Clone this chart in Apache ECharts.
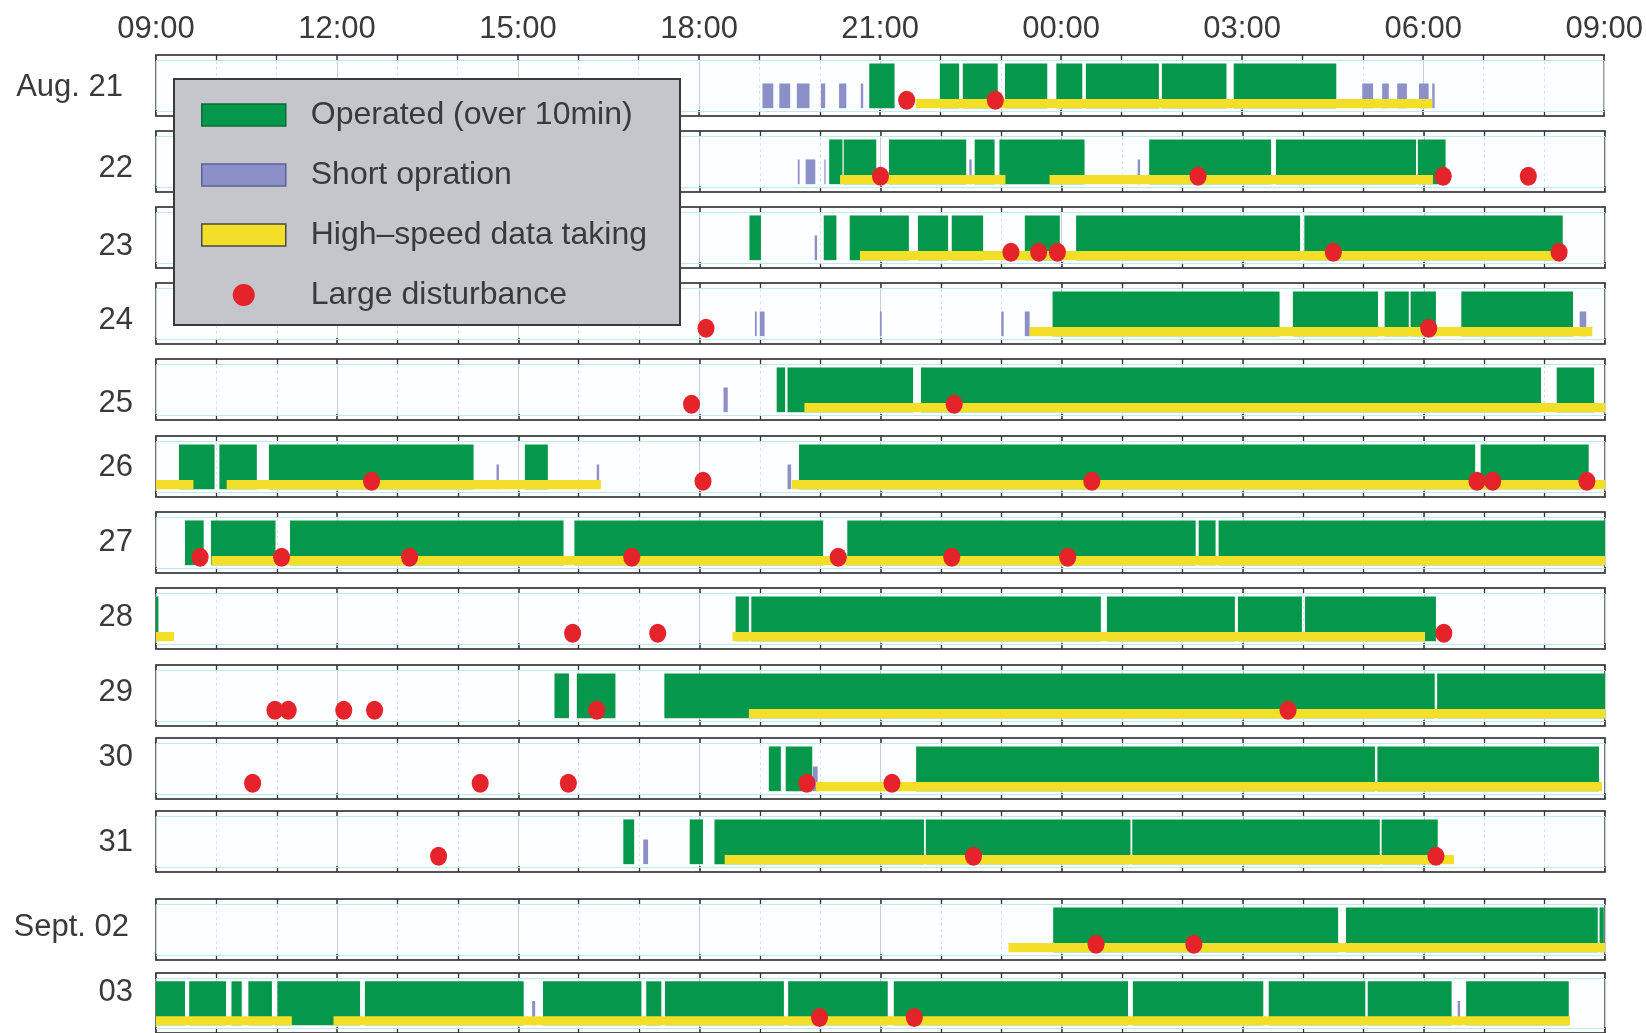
<!DOCTYPE html>
<html>
<head>
<meta charset="utf-8">
<script src="https://cdn.jsdelivr.net/npm/echarts@6/dist/echarts.min.js"></script>
<style>
  html, body { margin: 0; padding: 0; background: #ffffff; }
  #chart { width: 1646px; height: 1033px; }
</style>
</head>
<body>
<div id="chart"></div>
<script>
// Daily operation log: each row runs from 09:00 to 09:00 of the next day.
// Times are clock hours; values above 24 belong to the following morning.

const dayLabels = ['Aug. 21', '22', '23', '24', '25', '26', '27', '28', '29', '30', '31', 'Sept. 02', '03'];

// Operated (over 10 min): [start, end] per run
const operated = [
  [[20.82, 21.24], [21.99, 22.31], [22.37, 22.95], [23.07, 23.77], [23.92, 24.35], [24.41, 25.62], [25.67, 26.74], [26.86, 28.56]],
  [[20.15, 20.37], [20.39, 20.93], [21.14, 22.42], [22.56, 22.89], [22.97, 24.38], [25.45, 27.47], [27.55, 29.87], [29.9, 30.36]],
  [[18.83, 19.02], [20.06, 20.27], [20.49, 21.47], [21.62, 22.12], [22.18, 22.7], [23.39, 23.97], [24.24, 27.95], [28.02, 32.3]],
  [[23.85, 27.61], [27.83, 29.24], [29.35, 29.75], [29.78, 30.2], [30.62, 32.47]],
  [[19.28, 19.42], [19.46, 21.54], [21.67, 31.94], [32.2, 32.82]],
  [[9.38, 9.97], [10.05, 10.67], [10.87, 14.26], [15.11, 15.49], [19.65, 30.85], [30.94, 32.73]],
  [[9.48, 9.79], [9.91, 10.98], [11.22, 15.75], [15.93, 20.05], [20.45, 26.22], [26.27, 26.55], [26.6, 33.0]],
  [[9.0, 9.04], [18.6, 18.82], [18.86, 24.65], [24.75, 26.87], [26.92, 27.98], [28.03, 30.2]],
  [[15.6, 15.84], [15.97, 16.61], [17.42, 30.18], [30.22, 33.0]],
  [[19.15, 19.35], [19.43, 19.87], [21.59, 29.19], [29.23, 32.9]],
  [[16.74, 16.92], [17.84, 18.06], [18.25, 21.72], [21.75, 25.14], [25.17, 29.27], [29.3, 30.23]],
  [[23.86, 28.58], [28.71, 32.88], [32.91, 32.98]],
  [[9.0, 9.48], [9.55, 10.16], [10.25, 10.42], [10.53, 10.92], [11.01, 12.38], [12.46, 15.09], [15.41, 17.04],
   [17.12, 17.37], [17.43, 19.4], [19.47, 21.12], [21.22, 25.1], [25.18, 27.34], [27.43, 29.03], [29.07, 30.46], [30.7, 32.4]]
];

// Short operation: [start, end]
const shortOps = [
  [[19.05, 19.23], [19.33, 19.51], [19.62, 19.83], [20.02, 20.09], [20.32, 20.44], [20.68, 20.72],
   [28.99, 29.17], [29.32, 29.43], [29.57, 29.73], [29.93, 30.09], [30.15, 30.19]],
  [[19.63, 19.66], [19.76, 19.92], [20.07, 20.09], [22.47, 22.51], [25.26, 25.3]],
  [[19.91, 19.95]],
  [[18.92, 18.95], [19.0, 19.08], [20.99, 21.02], [23.0, 23.04], [23.39, 23.47], [32.58, 32.69]],
  [[18.4, 18.47]],
  [[14.64, 14.68], [16.3, 16.34], [19.46, 19.52]],
  [],
  [],
  [],
  [[19.88, 19.96]],
  [[17.07, 17.15]],
  [],
  [[15.23, 15.28], [30.56, 30.6]]
];

// High-speed data taking: [start, end]
const highSpeed = [
  [[21.59, 30.15]],
  [[20.33, 23.07], [23.8, 30.15]],
  [[20.66, 32.22]],
  [[23.47, 32.79]],
  [[19.74, 33.0]],
  [[9.0, 9.62], [10.17, 16.37], [19.53, 33.0]],
  [[9.92, 33.0]],
  [[9.0, 9.3], [18.55, 30.02]],
  [[18.82, 33.0]],
  [[19.93, 32.95]],
  [[18.42, 30.5]],
  [[23.12, 33.0]],
  [[9.0, 11.25], [11.94, 32.42]]
];

// Large disturbances: time of each event
const disturbances = [
  [21.44, 22.91],
  [21.0, 26.26, 30.32, 31.73],
  [23.16, 23.62, 23.93, 28.5, 32.24],
  [18.11, 30.08],
  [17.87, 22.22],
  [12.57, 18.06, 24.5, 30.88, 31.14, 32.7],
  [9.73, 11.08, 13.2, 16.88, 20.3, 22.18, 24.1],
  [15.9, 17.31, 30.33],
  [10.97, 11.19, 12.11, 12.62, 16.3, 27.75],
  [10.6, 14.37, 15.83, 19.78, 21.19],
  [13.68, 22.54, 30.2],
  [24.57, 26.19],
  [19.99, 21.56]
];

// Hour axis: 09:00 .. 09:00 (next day), labels every 3 hours
const HOUR_MIN = 9, HOUR_MAX = 33, HOUR_STEP = 3;

// ---- layout & style ----
const FONT = "'Liberation Sans', Arial, Helvetica, sans-serif";
const TEXT = '#3a3a3a';
const GREEN = '#06984a', BLUE = '#8b90c9', YELLOW = '#f3df27', RED = '#e4232b';
const AXIS = '#4a4a4a';
const GRID_LEFT = 156, GRID_RIGHT = 41, GRID_H = 61;
const gridTops = [55, 131, 207, 283, 359, 436, 512, 588, 665, 738, 811, 899, 973];
const labelY = [87, 168, 246, 320, 403, 467, 542, 617, 692, 757, 842, 927, 992];
const labelRight = [123, 133, 133, 133, 133, 133, 133, 133, 133, 133, 133, 129, 133];
// vertical lanes inside each row (y axis runs -1 .. 11)
const LANE = { opTop: 9.34, shortTop: 5.4, hsTop: 2.34, bottom: 0.54, dot: 2.1 };

const NAMES = {
  op: 'Operated (over 10min)',
  short: 'Short opration',
  hs: 'High\u2013speed data taking',
  dist: 'Large disturbance'
};

function hourLabel(v) {
  const h = ((v % 24) + 24) % 24;
  return (h < 10 ? '0' : '') + h + ':00';
}

function spanRenderer(top, bottom, fill) {
  return function (params, api) {
    const a = api.coord([api.value(0), top]);
    const b = api.coord([api.value(1), bottom]);
    return {
      type: 'rect',
      shape: { x: a[0], y: a[1], width: Math.max(b[0] - a[0], 1.2), height: b[1] - a[1] },
      style: { fill: fill }
    };
  };
}

const grids = [], xAxes = [], yAxes = [], series = [];

dayLabels.forEach(function (label, i) {
  grids.push({
    left: GRID_LEFT, right: GRID_RIGHT, top: gridTops[i], height: GRID_H,
    show: true, backgroundColor: '#fdfeff', borderColor: AXIS, borderWidth: 1.5
  });

  const common = {
    type: 'value', gridIndex: i, min: HOUR_MIN, max: HOUR_MAX, interval: HOUR_STEP,
    axisLine: { show: true, onZero: false, lineStyle: { color: AXIS, width: 1.6 } },
    axisTick: { show: true, inside: true, length: 6, lineStyle: { color: '#333', width: 1.5 } },
    minorTick: { show: true, splitNumber: 3, length: 5, lineStyle: { color: '#333', width: 1.3 } },
    z: 1
  };
  // bottom axis carries the grid lines
  xAxes.push(Object.assign({}, common, {
    position: 'bottom',
    axisLabel: { show: false },
    splitLine: { show: true, lineStyle: { color: '#c6d0d6', width: 1 } },
    minorSplitLine: { show: true, lineStyle: { color: '#d6e5ec', width: 1, type: [3, 3] } }
  }));
  // top axis: hour labels on the first row only
  xAxes.push(Object.assign({}, common, {
    position: 'top',
    splitLine: { show: false },
    minorSplitLine: { show: false },
    axisLabel: {
      show: i === 0, margin: 10, formatter: hourLabel,
      fontSize: 31, fontFamily: FONT, color: TEXT,
      showMinLabel: true, showMaxLabel: true
    }
  }));
  yAxes.push({ type: 'value', gridIndex: i, min: -1, max: 11, show: false });

  const xi = 2 * i;
  series.push({
    name: NAMES.op, type: 'custom', xAxisIndex: xi, yAxisIndex: i, z: 2,
    encode: { x: [0, 1] },
    renderItem: spanRenderer(LANE.opTop, LANE.bottom, GREEN),
    data: operated[i],
    markLine: {
      silent: true, symbol: 'none', label: { show: false }, animation: false,
      lineStyle: { color: '#c4e7ef', width: 1.2, type: 'solid' },
      data: [{ yAxis: 0 }, { yAxis: 10 }]
    }
  });
  series.push({
    name: NAMES.short, type: 'custom', xAxisIndex: xi, yAxisIndex: i, z: 3,
    encode: { x: [0, 1] },
    renderItem: spanRenderer(LANE.shortTop, LANE.bottom, BLUE),
    data: shortOps[i]
  });
  series.push({
    name: NAMES.hs, type: 'custom', xAxisIndex: xi, yAxisIndex: i, z: 4,
    encode: { x: [0, 1] },
    renderItem: spanRenderer(LANE.hsTop, LANE.bottom, YELLOW),
    data: highSpeed[i]
  });
  series.push({
    name: NAMES.dist, type: 'scatter', xAxisIndex: xi, yAxisIndex: i, z: 5,
    symbol: 'circle', symbolSize: [17, 19],
    itemStyle: { color: RED, opacity: 1 },
    data: disturbances[i].map(function (t) { return [t, LANE.dot]; })
  });
});

const chart = echarts.init(document.getElementById('chart'), null, { renderer: 'canvas' });
chart.setOption({
  animation: false,
  backgroundColor: '#ffffff',
  grid: grids,
  xAxis: xAxes,
  yAxis: yAxes,
  series: series,
  legend: {
    orient: 'vertical', left: 174, top: 79,
    backgroundColor: '#c4c6cc', borderColor: '#3a3a3a', borderWidth: 2,
    padding: [20, 33, 14, 27],
    itemWidth: 84, itemHeight: 22, itemGap: 28,
    selectedMode: false,
    textStyle: { fontSize: 32, fontFamily: FONT, color: TEXT, lineHeight: 32, padding: [0, 0, 0, 20] },
    data: [
      { name: NAMES.op, icon: 'rect', itemStyle: { color: GREEN, borderColor: '#0d6b35', borderWidth: 1.5 } },
      { name: NAMES.short, icon: 'rect', itemStyle: { color: BLUE, borderColor: '#5c6099', borderWidth: 1.5 } },
      { name: NAMES.hs, icon: 'rect', itemStyle: { color: YELLOW, borderColor: '#4a4a4a', borderWidth: 1.5 } },
      { name: NAMES.dist, icon: 'circle', itemStyle: { color: RED } }
    ],
    z: 10
  },
  graphic: dayLabels.map(function (t, i) {
    return {
      type: 'text', x: labelRight[i], y: labelY[i], z: 10,
      style: { text: t, align: 'right', verticalAlign: 'middle', fontSize: 31, fontFamily: FONT, fill: TEXT }
    };
  })
});
</script>
</body>
</html>
